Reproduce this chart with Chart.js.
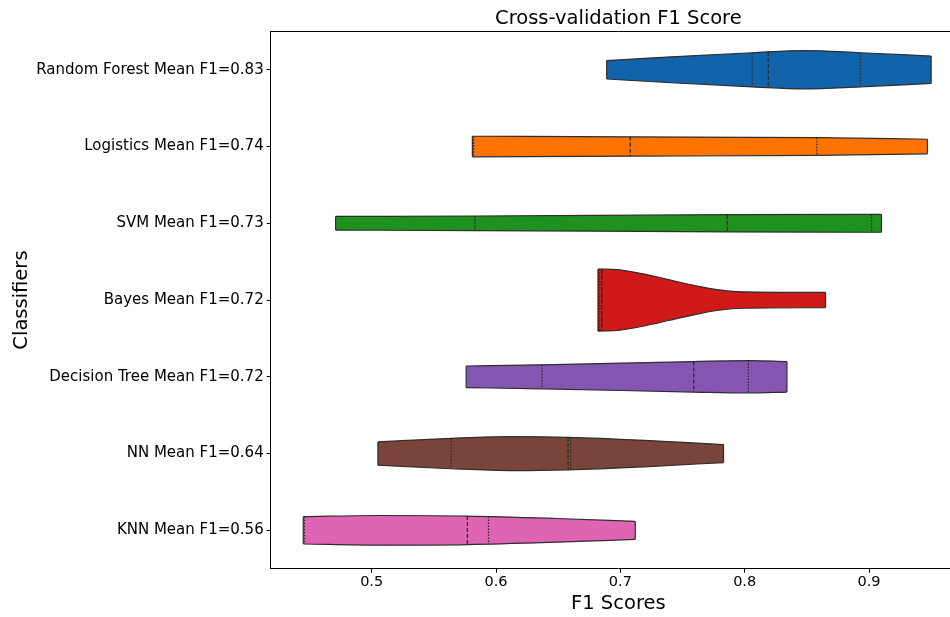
<!DOCTYPE html>
<html>
<head>
<meta charset="utf-8">
<script src="https://cdn.jsdelivr.net/npm/chart.js@4.4.1/dist/chart.umd.min.js"></script>
<style>
html, body { margin: 0; padding: 0; background: #fff; overflow: hidden; }
#wrap { width: 966px; height: 617px; }
</style>
</head>
<body>
<div id="wrap"><canvas id="myChart"></canvas></div>
<script>

const classifiers = [
  'Random Forest Mean F1=0.83',
  'Logistics Mean F1=0.74',
  'SVM Mean F1=0.73',
  'Bayes Mean F1=0.72',
  'Decision Tree Mean F1=0.72',
  'NN Mean F1=0.64',
  'KNN Mean F1=0.56'
];
const colors = ['#1264aa', '#ff7300', '#1e911e', '#d01919', '#8555b2', '#7a443a', '#e064b4'];
const xTicks = [0.5, 0.6, 0.7, 0.8, 0.9];

// violin outlines: F1 score along the violin, half width there (in rows)
const rfScores = [0.689, 0.741, 0.806, 0.848, 0.893, 0.950];
const rfWidth = [0.120, 0.169, 0.222, 0.250, 0.222, 0.178];
const logScores = [0.581, 0.708, 0.858, 0.947];
const logWidth = [0.134, 0.126, 0.115, 0.095];
const svmScores = [0.471, 0.583, 0.786, 0.902, 0.910];
const svmWidth = [0.089, 0.095, 0.112, 0.117, 0.117];
const bayesScores = [0.682, 0.697, 0.713, 0.730, 0.747, 0.764, 0.781, 0.798, 0.865];
const bayesWidth = [0.404, 0.397, 0.358, 0.300, 0.235, 0.176, 0.130, 0.107, 0.100];
const treeScores = [0.576, 0.637, 0.759, 0.803, 0.834];
const treeWidth = [0.141, 0.156, 0.199, 0.211, 0.199];
const nnScores = [0.505, 0.564, 0.612, 0.658, 0.719, 0.783];
const nnWidth = [0.152, 0.198, 0.221, 0.212, 0.173, 0.117];
const knnScores = [0.445, 0.505, 0.577, 0.649, 0.712];
const knnWidth = [0.178, 0.193, 0.186, 0.154, 0.117];

// inner quartile lines
const q1 = [0.806, 0.582, 0.583, 0.683, 0.637, 0.564, 0.446];
const medians = [0.819, 0.708, 0.786, 0.685, 0.759, 0.658, 0.577];
const q3 = [0.893, 0.858, 0.902, 0.685, 0.803, 0.660, 0.594];

const outlines = [
  [rfScores, rfWidth], [logScores, logWidth], [svmScores, svmWidth],
  [bayesScores, bayesWidth], [treeScores, treeWidth], [nnScores, nnWidth],
  [knnScores, knnWidth]
];

function widthAt(xs, ws, q) {
  for (let i = 1; i < xs.length; i++) {
    if (q <= xs[i]) {
      const t = (q - xs[i - 1]) / (xs[i] - xs[i - 1]);
      return ws[i - 1] + Math.max(0, t) * (ws[i] - ws[i - 1]);
    }
  }
  return ws[ws.length - 1];
}

const edge = '#2e2e2e';
const datasets = [];
outlines.forEach(([xs, ws], row) => {
  // upper edge
  datasets.push({
    data: xs.map((x, i) => ({x: x, y: row - ws[i]})),
    showLine: true, fill: false, borderColor: edge, borderWidth: 1.2,
    pointRadius: 0, cubicInterpolationMode: 'monotone', order: 2
  });
  // lower edge, filled up to the upper one
  datasets.push({
    data: xs.map((x, i) => ({x: x, y: row + ws[i]})),
    showLine: true, fill: datasets.length - 1, backgroundColor: colors[row],
    borderColor: edge, borderWidth: 1.2,
    pointRadius: 0, cubicInterpolationMode: 'monotone', order: 2
  });
  // cut ends
  [0, xs.length - 1].forEach(i => {
    datasets.push({
      data: [{x: xs[i], y: row - ws[i]}, {x: xs[i], y: row + ws[i]}],
      showLine: true, fill: false, borderColor: edge, borderWidth: 1.2,
      pointRadius: 0, order: 1
    });
  });
});
outlines.forEach(([xs, ws], row) => {
  [[q1[row], [1.5, 1.5]], [medians[row], [4, 2]], [q3[row], [1.5, 1.5]]].forEach(([q, dash]) => {
    const w = widthAt(xs, ws, q);
    datasets.push({
      data: [{x: q, y: row - w}, {x: q, y: row + w}],
      showLine: true,
      fill: false,
      borderColor: 'rgba(40,40,40,0.95)',
      borderWidth: 1.3,
      borderDash: dash,
      pointRadius: 0,
      order: 0
    });
  });
});

Chart.defaults.font.family = 'DejaVu Sans';
Chart.defaults.color = '#000';

const ctx = document.getElementById('myChart').getContext('2d');
const chart = new Chart(ctx, {
  type: 'scatter',
  data: { datasets: datasets },
  options: {
    responsive: true,
    maintainAspectRatio: false,
    animation: false,
    layout: { padding: 0 },
    plugins: {
      legend: { display: false },
      tooltip: { enabled: false }
    },
    scales: {
      x: {
        type: 'linear',
        position: 'bottom',
        min: 0.4188,
        max: 0.978,
        afterBuildTicks: (scale) => { scale.ticks = xTicks.map(v => ({value: v})); },
        afterFit: (scale) => { scale.height = 48.3; },
        ticks: {
          font: { size: 14.5 },
          padding: 1,
          maxRotation: 0,
          callback: (v) => v.toFixed(1)
        },
        grid: { drawOnChartArea: false, drawTicks: true, tickLength: 4, color: '#000' },
        border: { display: true, color: '#000', width: 1 },
        title: { display: true, text: 'F1 Scores', font: { size: 19.5 }, padding: { top: 0, bottom: 1.5 } }
      },
      x2: {
        type: 'linear',
        position: 'top',
        min: 0.4188,
        max: 0.978,
        afterFit: (scale) => { scale.height = 31.4; },
        ticks: { display: false },
        grid: { display: false, drawTicks: false },
        border: { display: true, color: '#000', width: 1 },
        title: { display: true, text: 'Cross-validation F1 Score', font: { size: 19.5 }, padding: { top: 7.5, bottom: 0 } }
      },
      y: {
        type: 'linear',
        reverse: true,
        min: -0.5,
        max: 6.5,
        afterBuildTicks: (scale) => { scale.ticks = classifiers.map((c, i) => ({value: i})); },
        afterFit: (scale) => { scale.width = 270.7; },
        ticks: {
          font: { size: 15 },
          padding: 3,
          callback: (v) => classifiers[v]
        },
        grid: { drawOnChartArea: false, drawTicks: true, tickLength: 4, color: '#000' },
        border: { display: true, color: '#000', width: 1 },
        title: { display: true, text: 'Classifiers', font: { size: 19.5 }, padding: { top: 10.5, bottom: 0 } }
      }
    }
  }
});
</script>
</body>
</html>
